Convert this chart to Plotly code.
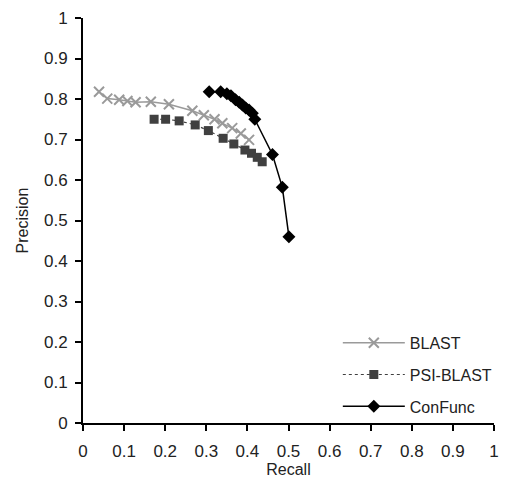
import plotly.graph_objects as go

blast_recall = [0.039, 0.059, 0.088, 0.108, 0.128, 0.165, 0.209, 0.266, 0.294, 0.320, 0.339, 0.363, 0.384, 0.404]
blast_precision = [0.818, 0.801, 0.798, 0.795, 0.792, 0.793, 0.787, 0.771, 0.760, 0.750, 0.740, 0.728, 0.715, 0.699]

psi_recall = [0.173, 0.201, 0.234, 0.273, 0.305, 0.341, 0.367, 0.394, 0.410, 0.424, 0.436]
psi_precision = [0.750, 0.750, 0.746, 0.736, 0.722, 0.703, 0.689, 0.674, 0.666, 0.656, 0.645]

confunc_recall = [0.307, 0.335, 0.350, 0.360, 0.371, 0.380, 0.388, 0.396, 0.404, 0.412, 0.418, 0.461, 0.485, 0.501]
confunc_precision = [0.818, 0.818, 0.813, 0.808, 0.798, 0.792, 0.785, 0.778, 0.773, 0.765, 0.750, 0.663, 0.582, 0.460]

ticks = [0, 0.1, 0.2, 0.3, 0.4, 0.5, 0.6, 0.7, 0.8, 0.9, 1]
tick_labels = ["0", "0.1", "0.2", "0.3", "0.4", "0.5", "0.6", "0.7", "0.8", "0.9", "1"]

FONT = "Liberation Sans, Arial, sans-serif"

fig = go.Figure()
fig.add_trace(go.Scatter(
    x=blast_recall, y=blast_precision, name="BLAST", mode="lines+markers", legendgroup="a",
    line=dict(color="#9a9a9a", width=1.5),
    marker=dict(symbol="x-thin", size=10, line=dict(color="#9a9a9a", width=2), color="#9a9a9a"),
))
fig.add_trace(go.Scatter(
    x=psi_recall, y=psi_precision, name="PSI-BLAST", mode="lines+markers", legendgroup="b",
    line=dict(color="#404040", width=1.2, dash="dot"),
    marker=dict(symbol="square", size=9, color="#404040"),
))
fig.add_trace(go.Scatter(
    x=confunc_recall, y=confunc_precision, name="ConFunc", mode="lines+markers", legendgroup="c",
    line=dict(color="#000000", width=1.5),
    marker=dict(symbol="diamond", size=10, color="#000000"),
))

axis_common = dict(
    range=[0, 1], tickvals=ticks, ticktext=tick_labels, automargin=False,
    showgrid=False, zeroline=False, showline=True, linecolor="black", linewidth=2,
    ticks="outside", ticklen=6, tickwidth=2, tickcolor="black",
    tickfont=dict(family=FONT, size=17, color="#222"),
)

fig.update_layout(
    width=501, height=477,
    margin=dict(l=75, r=15, t=10, b=62),
    plot_bgcolor="white", paper_bgcolor="white",
    font=dict(family=FONT, color="#222"),
    xaxis=dict(**axis_common, ticklabelstandoff=6,
               title=dict(text="Recall", font=dict(size=16), standoff=3)),
    yaxis=dict(**axis_common, ticklabelstandoff=4,
               title=dict(text="Precision", font=dict(size=16), standoff=11)),
    legend=dict(x=0.62, y=0.24, xanchor="left", yanchor="top", font=dict(size=16, family=FONT),
                bgcolor="rgba(0,0,0,0)", tracegroupgap=8, itemwidth=62),
    showlegend=True,
)

fig.write_html("out.html")
